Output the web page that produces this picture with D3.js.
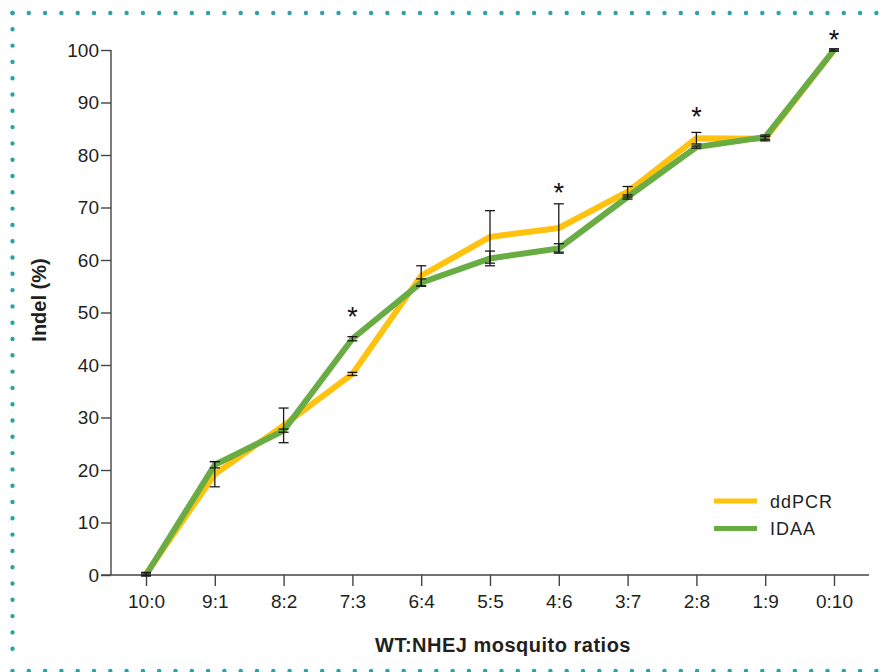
<!DOCTYPE html>
<html>
<head>
<meta charset="utf-8">
<script src="https://cdn.jsdelivr.net/npm/d3@7"></script>
<style>
  body { margin: 0; background: #fff; }
  svg { display: block; font-family: "Liberation Sans", Arial, Helvetica, sans-serif; }
</style>
</head>
<body>
<div id="chart"></div>
<script>
// Indel (%) by WT:NHEJ mosquito ratio, ddPCR vs IDAA

const ratios = ["10:0", "9:1", "8:2", "7:3", "6:4", "5:5", "4:6", "3:7", "2:8", "1:9", "0:10"];
const ddpcrMean = [0.2, 19.2, 28.5, 38.3, 57.0, 64.4, 66.1, 73.0, 83.2, 83.1, 100];
const ddpcrErr  = [0.3, 2.4, 3.3, 0.3, 1.9, 5.0, 4.6, 1.0, 1.1, 0.4, 0.2];
const idaaMean  = [0, 21.0, 27.5, 45.0, 55.7, 60.3, 62.2, 72.0, 81.5, 83.4, 100];
const idaaErr   = [0.2, 0.6, 0.3, 0.4, 0.7, 1.4, 0.9, 0.4, 0.2, 0.4, 0.2];
const yTicks = [0, 10, 20, 30, 40, 50, 60, 70, 80, 90, 100];
// asterisks (significance) and the height they sit at
const starRatios = ["7:3", "4:6", "2:8", "0:10"];
const starLevels = [50.3, 74, 88.3, 103];

const W = 889, H = 672;
const svg = d3.select("#chart").append("svg")
    .attr("width", W)
    .attr("height", H);

//--------------------------------------------------
// Dotted frame
//--------------------------------------------------
const teal = "#2aa3a3";
const frame = svg.append("g")
    .attr("fill", "none")
    .attr("stroke", teal)
    .attr("stroke-width", 4.4)
    .attr("stroke-linecap", "round")
    .attr("stroke-dasharray", "0 16.3");
frame.append("path").attr("d", "M12.5,13 H884");
frame.append("path").attr("d", "M12.5,13 V664");
frame.append("path").attr("d", "M12.5,671 H884");

//--------------------------------------------------
// Scales
//--------------------------------------------------
const x = d3.scalePoint()
    .domain(ratios)
    .range([146, 834]);

const y = d3.scaleLinear()
    .domain([0, 100])
    .range([575, 50]);

const axisColor = "#444";
const textColor = "#231f20";
const font = "Liberation Sans, Arial, sans-serif";

// y axis
const gy = svg.append("g")
    .attr("transform", "translate(111,0)")
    .call(d3.axisLeft(y).tickValues(yTicks).tickSize(10).tickPadding(2));
gy.select(".domain").remove();
gy.selectAll(".tick line").attr("stroke", axisColor).attr("stroke-width", 1.4);
gy.selectAll(".tick text")
    .attr("font-size", 19)
    .attr("fill", textColor)
    .attr("font-family", font);
svg.append("line")
    .attr("x1", 111).attr("x2", 111)
    .attr("y1", y(100)).attr("y2", y(0))
    .attr("stroke", axisColor).attr("stroke-width", 1.4);

// x axis
const gx = svg.append("g")
    .attr("transform", `translate(0,${y(0)})`)
    .call(d3.axisBottom(x).tickSize(11).tickPadding(9));
gx.select(".domain").remove();
gx.selectAll(".tick line").attr("stroke", axisColor).attr("stroke-width", 1.4);
gx.selectAll(".tick text")
    .attr("font-size", 19)
    .attr("fill", textColor)
    .attr("font-family", font);
svg.append("line")
    .attr("x1", 101).attr("x2", 869)
    .attr("y1", y(0)).attr("y2", y(0))
    .attr("stroke", axisColor).attr("stroke-width", 1.4);

// axis titles
svg.append("text")
    .attr("x", 503)
    .attr("y", 652)
    .attr("text-anchor", "middle")
    .attr("font-weight", "bold")
    .attr("font-size", 20)
    .attr("letter-spacing", 0.5)
    .attr("fill", textColor)
    .text("WT:NHEJ mosquito ratios");

svg.append("text")
    .attr("transform", "translate(46,300) rotate(-90)")
    .attr("text-anchor", "middle")
    .attr("font-weight", "bold")
    .attr("font-size", 20)
    .attr("fill", textColor)
    .text("Indel (%)");

//--------------------------------------------------
// Lines
//--------------------------------------------------
const series = [
    { name: "ddPCR", color: "#ffc20e", mean: ddpcrMean, err: ddpcrErr },
    { name: "IDAA", color: "#6aac44", mean: idaaMean, err: idaaErr }
];

const line = d3.line()
    .x((d, i) => x(ratios[i]))
    .y(d => y(d));

series.forEach(s => {
    svg.append("path")
        .datum(s.mean)
        .attr("fill", "none")
        .attr("stroke", s.color)
        .attr("stroke-width", 6)
        .attr("stroke-linejoin", "miter")
        .attr("d", line);
});

// error bars
const capW = 5;
series.forEach(s => {
    const g = svg.append("g")
        .attr("stroke", "#1a1a1a")
        .attr("stroke-width", 1.3)
        .attr("fill", "none");
    s.mean.forEach((m, i) => {
        const cx = x(ratios[i]);
        const top = y(m + s.err[i]), bot = y(m - s.err[i]);
        g.append("line").attr("x1", cx).attr("x2", cx).attr("y1", top).attr("y2", bot);
        g.append("line").attr("x1", cx - capW).attr("x2", cx + capW).attr("y1", top).attr("y2", top);
        g.append("line").attr("x1", cx - capW).attr("x2", cx + capW).attr("y1", bot).attr("y2", bot);
    });
});

// significance asterisks
svg.append("g")
    .selectAll("text")
    .data(starRatios)
    .join("text")
    .attr("x", d => x(d))
    .attr("y", (d, i) => y(starLevels[i]) + 15)
    .attr("text-anchor", "middle")
    .attr("font-size", 27)
    .attr("fill", "#111")
    .text("*");

//--------------------------------------------------
// Legend
//--------------------------------------------------
const legend = svg.append("g")
    .attr("transform", "translate(714,501)");
series.forEach((s, i) => {
    legend.append("line")
        .attr("x1", 0).attr("x2", 43)
        .attr("y1", i * 27.5).attr("y2", i * 27.5)
        .attr("stroke", s.color)
        .attr("stroke-width", 5);
    legend.append("text")
        .attr("x", 56)
        .attr("y", i * 27.5 + 6.5)
        .attr("font-size", 18)
        .attr("letter-spacing", 1)
        .attr("fill", textColor)
        .text(s.name);
});
</script>
</body>
</html>
